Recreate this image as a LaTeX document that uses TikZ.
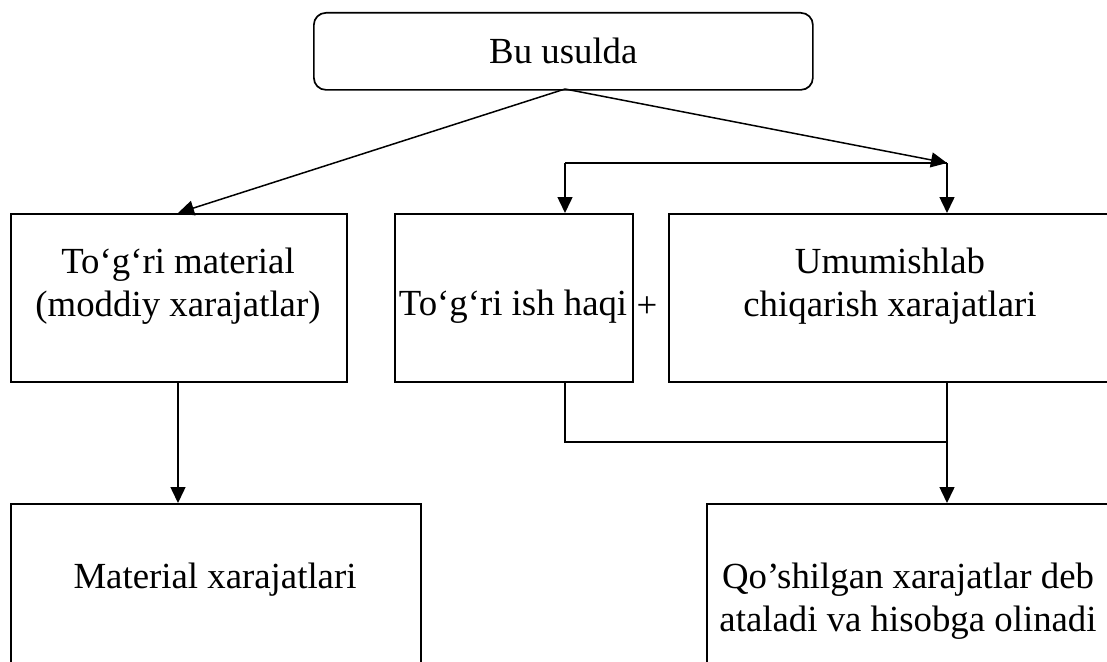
\documentclass[tikz,border=0pt]{standalone}
\usepackage{fontspec}
\setmainfont{Liberation Serif}
\usetikzlibrary{arrows.meta}
\begin{document}
\begin{tikzpicture}[x=1pt,y=-1pt,
  every node/.style={font=\fontsize{36.8}{43}\selectfont},
  boxn/.style={draw, line width=1.7pt, rectangle, inner sep=0pt, anchor=north west},
  lbl/.style={align=center, inner sep=0pt},
  link/.style={line width=1.5pt},
  arr/.style={link, -{Triangle[length=16pt,width=15pt]}}]
\useasboundingbox (0,0) rectangle (1107,661);
\clip (0,0) rectangle (1107,661);

% boxes
\node[boxn, rounded corners=12pt, minimum width=499pt, minimum height=77pt] (top) at (313,12) {Bu usulda};
\node[boxn, minimum width=336pt, minimum height=168pt] (mat) at (10,213) {};
\node[boxn, minimum width=238pt, minimum height=168pt] (ish) at (394,213) {};
\node[boxn, minimum width=450pt, minimum height=168pt] (umu) at (668,213) {};
\node[boxn, minimum width=410pt, minimum height=200pt] (matx) at (10,503) {};
\node[boxn, minimum width=410pt, minimum height=200pt] (qosh) at (706,503) {};

% texts
\node[lbl] (matt) at (178,286) {To‘g‘ri material\\(moddiy xarajatlar)};
\node[lbl] (isht) at (513,307) {To‘g‘ri ish haqi};
\node[lbl] (umut) at (890,286) {Umumishlab\\chiqarish xarajatlari};
\node[lbl] (plus) at (647,307) {+};
\node[lbl] (matxt) at (215,580) {Material xarajatlari};
\node[lbl] (qosht) at (908,601) {Qo’shilgan xarajatlar deb\\ataladi va hisobga olinadi};

% junction points
\coordinate (t0) at (565,89);
\coordinate (j0) at (565,163);
\coordinate (j1) at (947,163);
\coordinate (j2) at (565,442);
\coordinate (j3) at (947,442);

% connectors
\draw[arr] (t0) -- (mat.north -| 178,0);
\draw[arr] (t0) -- (j1);
\draw[link] (j0) -- (j1);
\draw[arr] (j0) -- (j0 |- ish.north);
\draw[arr] (j1) -- (j1 |- umu.north);
\draw[arr] (178,0 |- mat.south) -- (178,0 |- matx.north);
\draw[link] (j0 |- ish.south) -- (j2) -- (j3);
\draw[arr] (j1 |- umu.south) -- (j1 |- qosh.north);
\end{tikzpicture}
\end{document}
